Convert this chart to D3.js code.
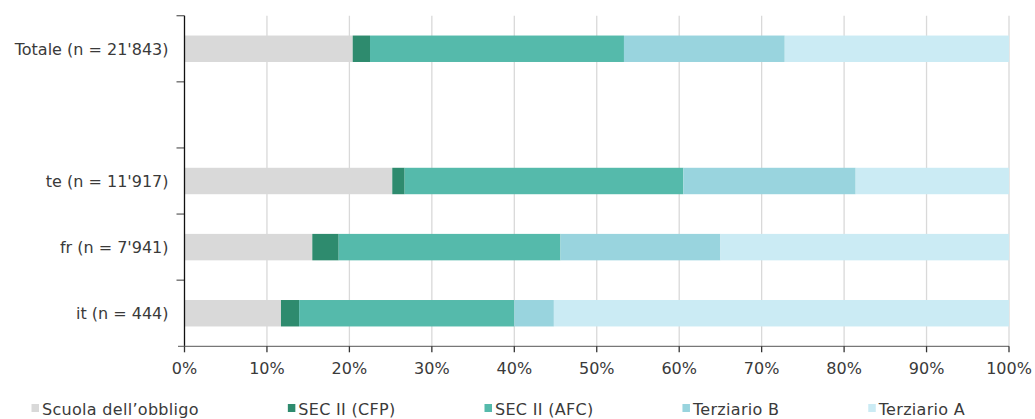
<!DOCTYPE html>
<html>
<head>
<meta charset="utf-8">
<script src="https://cdn.jsdelivr.net/npm/d3@7"></script>
<style>
  html, body { margin: 0; padding: 0; background: #fff; }
  svg { display: block; font-family: "DejaVu Sans", Verdana, sans-serif; }
</style>
</head>
<body>
<svg id="chart" width="1035" height="419"></svg>
<script>
// Row keys (the empty key is a spacer row) and their labels
const categories = ["Totale", "gap", "te", "fr", "it"];
const categoryLabels = ["Totale (n = 21'843)", "", "te (n = 11'917)", "fr (n = 7'941)", "it (n = 444)"];

// Series (education level), in stacking order
const seriesNames = ["Scuola dell’obbligo", "SEC II (CFP)", "SEC II (AFC)", "Terziario B", "Terziario A"];

// Shares in percent per row, one array per series
const obbligo    = [20.4, null, 25.2, 15.5, 11.7];
const secCFP     = [ 2.1, null,  1.5,  3.2,  2.2];
const secAFC     = [30.8, null, 33.8, 26.9, 26.1];
const terziarioB = [19.5, null, 20.9, 19.4,  4.8];
const terziarioA = [27.2, null, 18.6, 35.0, 55.2];

const xTicks = [0, 10, 20, 30, 40, 50, 60, 70, 80, 90, 100];
const xTickLabels = ["0%", "10%", "20%", "30%", "40%", "50%", "60%", "70%", "80%", "90%", "100%"];

const colors = ["#d9d9d9", "#2e8b6e", "#55baab", "#99d4de", "#cbebf4"];

const svg = d3.select("#chart");
const plotLeft = 184.5, plotRight = 1009, plotTop = 15.7, plotBottom = 346.3;

const x = d3.scaleLinear().domain([0, 100]).range([plotLeft, plotRight]);
const y = d3.scaleBand().domain(categories).range([plotTop, plotBottom])
  .paddingInner(0.6).paddingOuter(0.3);

// Vertical gridlines
svg.append("g").selectAll("line")
  .data(xTicks.filter(d => d > 0))
  .join("line")
  .attr("x1", d => x(d)).attr("x2", d => x(d))
  .attr("y1", plotTop).attr("y2", plotBottom)
  .attr("stroke", "#d9d9d9").attr("stroke-width", 1.3);

// Build the stacked table (spacer row has no bar)
const seriesValues = [obbligo, secCFP, secAFC, terziarioB, terziarioA];
const table = categories.map((c, i) => {
  const row = { key: c };
  seriesNames.forEach((s, j) => { row[s] = seriesValues[j][i] || 0; });
  return row;
}).filter((r, i) => obbligo[i] !== null);

const stacked = d3.stack().keys(seriesNames)(table);

svg.append("g").selectAll("g")
  .data(stacked)
  .join("g")
  .attr("fill", (d, i) => colors[i])
  .selectAll("rect")
  .data(d => d)
  .join("rect")
  .attr("x", d => x(d[0]))
  .attr("width", d => x(d[1]) - x(d[0]))
  .attr("y", d => y(d.data.key))
  .attr("height", y.bandwidth());

// Y axis line and ticks at row boundaries
const yAxis = svg.append("g");
const boundaries = d3.range(categories.length).map(i => plotTop + i * y.step());
yAxis.selectAll("line.tick")
  .data(boundaries)
  .join("line")
  .attr("class", "tick")
  .attr("x1", plotLeft - 8).attr("x2", plotLeft)
  .attr("y1", d => d).attr("y2", d => d)
  .attr("stroke", "#666").attr("stroke-width", 1.3);
yAxis.append("line")
  .attr("x1", plotLeft).attr("x2", plotLeft)
  .attr("y1", plotTop).attr("y2", plotBottom)
  .attr("stroke", "#111").attr("stroke-width", 1.3);

// Category labels
svg.append("g").selectAll("text")
  .data(categories)
  .join("text")
  .attr("x", plotLeft - 16)
  .attr("y", d => y(d) + y.bandwidth() / 2)
  .attr("dy", "0.36em")
  .attr("text-anchor", "end")
  .attr("font-size", 16)
  .attr("fill", "#3a3a3a")
  .text((d, i) => categoryLabels[i]);

// X axis
const xAxis = svg.append("g");
xAxis.append("line")
  .attr("x1", plotLeft - 6.5).attr("x2", plotRight)
  .attr("y1", plotBottom).attr("y2", plotBottom)
  .attr("stroke", "#777").attr("stroke-width", 1.3);
xAxis.selectAll("line.tick")
  .data(xTicks)
  .join("line")
  .attr("class", "tick")
  .attr("x1", d => x(d)).attr("x2", d => x(d))
  .attr("y1", plotBottom).attr("y2", plotBottom + 6)
  .attr("stroke", "#333").attr("stroke-width", 1.3);
xAxis.selectAll("text")
  .data(xTicks)
  .join("text")
  .attr("x", d => x(d))
  .attr("y", 373.5)
  .attr("text-anchor", "middle")
  .attr("font-size", 16)
  .attr("fill", "#3a3a3a")
  .text((d, i) => xTickLabels[i]);

// Legend, laid out left to right from measured text widths
const legend = svg.append("g");
let lx = 31.5;
seriesNames.forEach((name, i) => {
  legend.append("rect")
    .attr("x", lx).attr("y", 404)
    .attr("width", 7.5).attr("height", 8)
    .attr("fill", colors[i]);
  const t = legend.append("text")
    .attr("x", lx + 10.5).attr("y", 415)
    .attr("font-size", 16)
    .attr("letter-spacing", 0.3)
    .attr("fill", "#3a3a3a")
    .text(name);
  lx += 10.5 + t.node().getComputedTextLength() + 89;
});
</script>
</body>
</html>
